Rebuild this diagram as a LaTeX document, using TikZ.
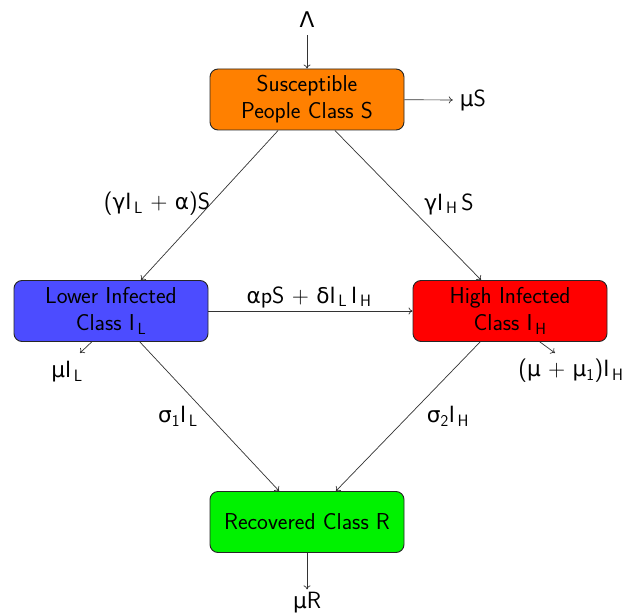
\documentclass[tikz,border=0pt]{standalone}
\usepackage{fontspec}
\newfontfamily\grk{DejaVu Sans}[Scale=0.92]
\usetikzlibrary{arrows.meta}
\newcommand\gk[1]{{\grk #1}}
\newcommand\sbs[1]{\textsubscript{#1}}
\begin{document}
\begin{tikzpicture}[x=1pt,y=-1pt,
  box/.style={draw=black!85, line width=0.9pt, rounded corners=8pt, minimum width=194pt, minimum height=61pt, align=center, inner sep=2pt, font=\fontsize{23}{27}\selectfont\sffamily},
  lbl/.style={inner sep=1pt, font=\fontsize{23.5}{27}\selectfont\sffamily},
  flow/.style={draw=black!80, line width=0.7pt, -{To[length=4pt,width=7pt]}}]
\useasboundingbox (0,0) rectangle (629,615);
\node[box, fill=orange] (S) at (307,99.5) {Susceptible\\People Class S};
\node[box, fill=blue!70] (IL) at (111,311) {Lower Infected\\Class I\sbs{\,L}};
\node[box, fill=red] (IH) at (510,311) {High Infected\\Class I\sbs{\,H}};
\node[box, fill=green!95!black] (R) at (307,522) {Recovered Class R};
\node[lbl] (lam) at (307,20) {\gk{Λ}};
\node[lbl] (muS) at (473,100) {\gk{μ}S};
\node[lbl] (muR) at (307,603) {\gk{μ}R};
\node[lbl] (muIL) at (67,372) {\gk{μ}I\sbs{\,L}};
\node[lbl] (muIH) at (571,371) {(\gk{μ} + \gk{μ}\sbs{1})I\sbs{\,H}};
\node[lbl] (lSL) at (157,204) {(\gk{γ}I\sbs{\,L} + \gk{α})S};
\node[lbl] (lSH) at (449,204) {\gk{γ}I\sbs{\,H}\,S};
\node[lbl] (lLH) at (309,297) {\gk{α}pS + \gk{δ}I\sbs{\,L}\,I\sbs{\,H}};
\node[lbl] (lLR) at (178,416) {\gk{σ}\sbs{1}I\sbs{\,L}};
\node[lbl] (lHR) at (448,416) {\gk{σ}\sbs{2}I\sbs{\,H}};
\coordinate (aL) at (80,353);
\coordinate (aH) at (555,353);
\draw[flow, shorten <=6pt] (lam) -- (S);
\draw[flow, shorten >=6pt] (S) -- (muS);
\draw[flow, shorten >=2pt] (R) -- (muR);
\draw[flow] (IL.238) -- (aL);
\draw[flow] (IH.314.5) -- (aH);
\draw[flow] (S.227.4) -- (IL.46.4);
\draw[flow] (S.312.6) -- (IH.133.6);
\draw[flow] (IL) -- (IH);
\draw[flow] (IL.313.6) -- (R.132.6);
\draw[flow] (IH.226.4) -- (R.47.4);
\end{tikzpicture}
\end{document}
